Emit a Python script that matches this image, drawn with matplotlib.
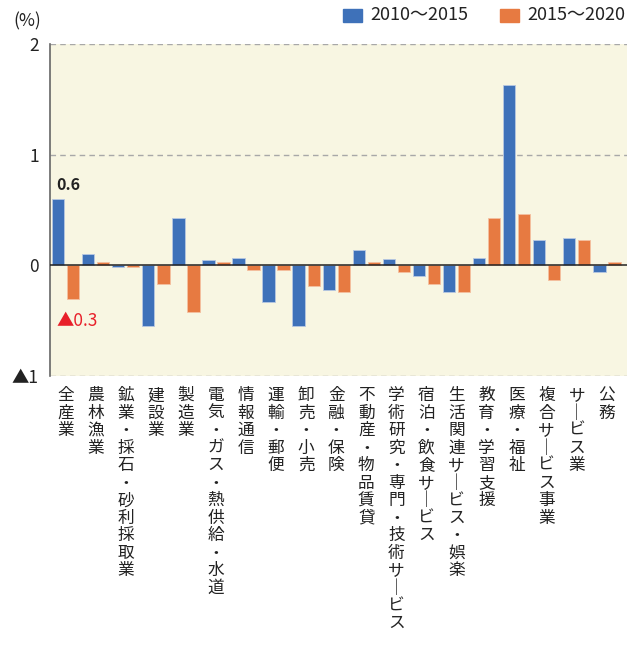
#!/usr/bin/env python3
"""
Employment change by industry, 2010-2015 vs 2015-2020
"""

import matplotlib
matplotlib.use('Agg')
import matplotlib.pyplot as plt
from matplotlib.patches import Rectangle
import numpy as np

plt.rcParams['font.family'] = ['Noto Sans CJK JP', 'DejaVu Sans']

industries = ['全産業', '農林漁業', '鉱業・採石・砂利採取業', '建設業', '製造業',
              '電気・ガス・熱供給・水道', '情報通信', '運輸・郵便', '卸売・小売',
              '金融・保険', '不動産・物品賃貸', '学術研究・専門・技術サービス',
              '宿泊・飲食サービス', '生活関連サービス・娯楽', '教育・学習支援',
              '医療・福祉', '複合サービス事業', 'サービス業', '公務']
chg_2010_2015 = [0.6, 0.1, -0.015, -0.55, 0.43, 0.05, 0.07, -0.33, -0.55, -0.22,
                 0.14, 0.054, -0.10, -0.24, 0.07, 1.63, 0.23, 0.25, -0.06]
chg_2015_2020 = [-0.3, 0.03, -0.015, -0.17, -0.42, 0.03, -0.04, -0.04, -0.19, -0.24,
                 0.03, -0.06, -0.17, -0.24, 0.43, 0.46, -0.13, 0.23, 0.03]
series_labels = ['2010～2015', '2015～2020']
ytick_vals = [-1, 0, 1, 2]
ytick_labels = ['▲1', '0', '1', '2']

blue = '#3e71b9'
orange = '#e77a41'
bg = '#f8f6e2'

fig = plt.figure(figsize=(6.38, 6.46), dpi=100)
ax = fig.add_axes([50/638, 270/646, 577/638, 332/646])
ax.set_facecolor(bg)

x = np.arange(len(industries))
w = 0.41
ax.bar(x - 0.25, chg_2010_2015, w, color=blue, edgecolor='#b7c8e2', linewidth=0.6, zorder=3)
ax.bar(x + 0.25, chg_2015_2020, w, color=orange, edgecolor='#f4c0a0', linewidth=0.6, zorder=3)

ax.set_xlim(-0.52, 18.67)
ax.set_ylim(-1, 2)
ax.axhline(0, color='#222222', lw=1.1, zorder=4)
for y in (1, 2, -1):
    ax.axhline(y, color='#a8a8a8', lw=1.0, ls=(0, (4, 3)), zorder=2)

for s in ('top', 'right', 'bottom'):
    ax.spines[s].set_visible(False)
ax.spines['left'].set_color('#666666')
ax.spines['left'].set_linewidth(1.2)

ax.set_yticks(ytick_vals)
ax.set_yticklabels(ytick_labels, fontsize=12.5, color='#222222')
ax.tick_params(axis='y', length=0, pad=8)
ax.set_xticks([])

# vertical category labels (long vowel mark turned upright)
for i, name in enumerate(industries):
    txt = '\n'.join(name.replace('ー', '｜'))
    ax.text(i, -1.1, txt, ha='center', va='top', fontsize=12, color='#222222',
            linespacing=1.04, transform=ax.transData, clip_on=False)

# value labels on the total bars
ax.text(-0.32, chg_2010_2015[0] + 0.05, f'{chg_2010_2015[0]:.1f}', ha='left', va='bottom',
        fontsize=11.5, fontweight='bold', color='#222222', zorder=5)
ax.text(-0.29, chg_2015_2020[0] - 0.2, f'▲{abs(chg_2015_2020[0]):.1f}', ha='left', va='center',
        fontsize=12.5, color='#e8202a', zorder=5)

fig.text(13/638, 1 - 21/646, '(%)', ha='left', va='center', fontsize=12.5, color='#222222')

# legend
for lx, col, lab in ((343, blue, series_labels[0]), (500, orange, series_labels[1])):
    fig.patches.append(Rectangle((lx/638, 1 - 22/646), 19/638, 13/646, color=col,
                                 transform=fig.transFigure, figure=fig))
    fig.text((lx + 27)/638, 1 - 15/646, lab, ha='left', va='center', fontsize=13, color='#222222')

plt.savefig('out.png', dpi=100)
plt.close('all')
